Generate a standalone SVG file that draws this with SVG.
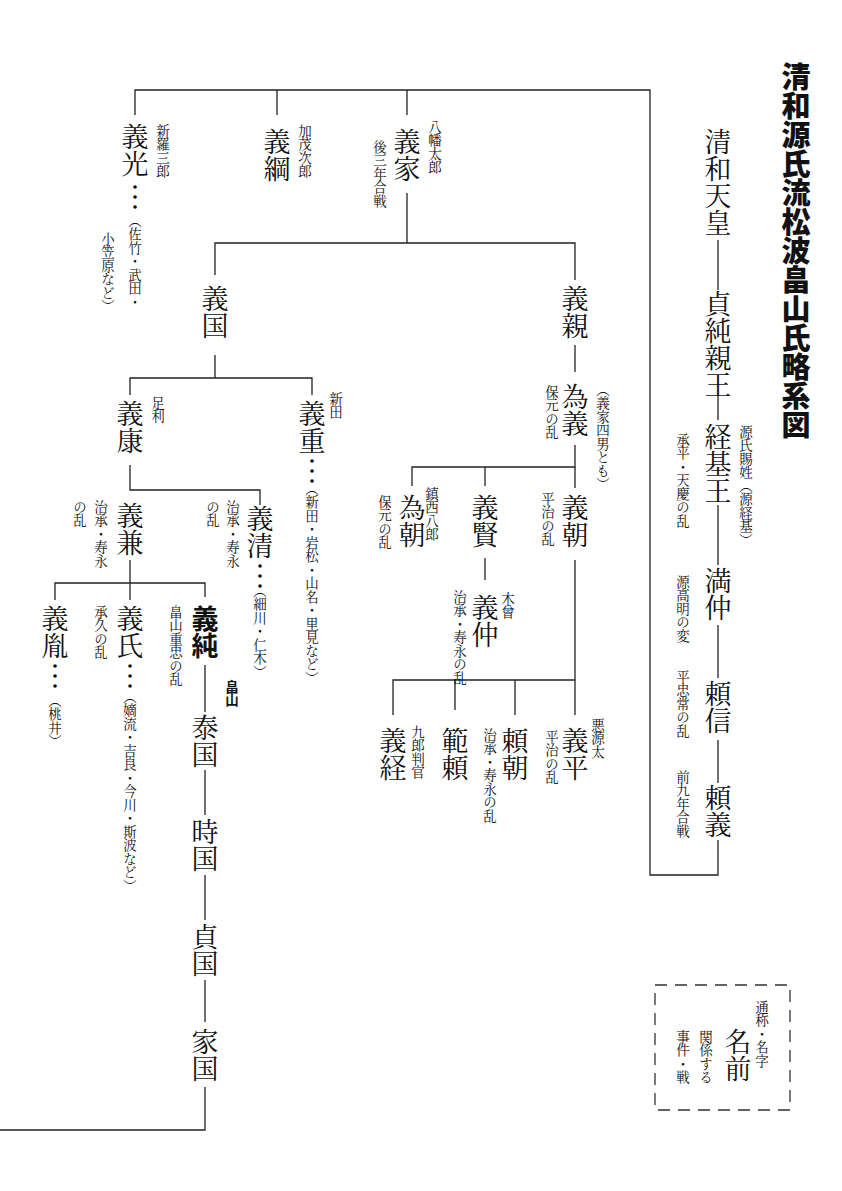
<svg xmlns="http://www.w3.org/2000/svg" width="842" height="1191" viewBox="0 0 842 1191">
<style>
text{writing-mode:vertical-rl;font-family:"Noto Serif CJK JP","Noto Sans CJK JP",serif;fill:#111}
.n{font-size:27px}
.s{font-size:13.5px}
.d{font-size:10px;stroke:#111;stroke-width:1.6}
.b{font-weight:bold;font-family:"Noto Sans CJK JP",sans-serif}
.c line,.c polyline{stroke:#222;stroke-width:1.3;fill:none}
</style>
<rect width="842" height="1191" fill="#fff"/>
<g class="c" id="connectors">
<polyline points="718,240 718,290"/><line x1="718" y1="395" x2="718" y2="420"/><line x1="718" y1="505" x2="718" y2="565"/><line x1="718" y1="625" x2="718" y2="678"/><line x1="718" y1="740" x2="718" y2="783"/>
<polyline points="718,840 718,875 650,875 650,90 135,90 135,115"/>
<line x1="277" y1="90" x2="277" y2="115"/><line x1="407" y1="90" x2="407" y2="115"/>
<polyline points="407,193 407,243"/><polyline points="215,275 215,243 575,243 575,280"/>
<line x1="215" y1="355" x2="215" y2="378"/><polyline points="130,395 130,378 312,378 312,395"/>
<polyline points="130,465 130,490 260,490 260,505"/>
<line x1="130" y1="560" x2="130" y2="600"/><polyline points="55,600 55,583 205,583 205,597"/>
<line x1="205" y1="665" x2="205" y2="712"/><line x1="205" y1="770" x2="205" y2="815"/><line x1="205" y1="875" x2="205" y2="920"/><line x1="205" y1="980" x2="205" y2="1022"/>
<polyline points="205,1087 205,1130 0,1130"/>
<line x1="575" y1="345" x2="575" y2="372"/>
<polyline points="575,445 575,467 412,467 412,486"/><line x1="485" y1="467" x2="485" y2="486"/><line x1="575" y1="467" x2="575" y2="488"/>
<line x1="485" y1="558" x2="485" y2="580"/>
<line x1="575" y1="560" x2="575" y2="715"/><polyline points="393,715 393,680 575,680"/><line x1="455" y1="680" x2="455" y2="710"/><line x1="515" y1="680" x2="515" y2="715"/>
<rect x="655" y="985" width="135" height="125" fill="none" stroke="#333" stroke-width="1.3" stroke-dasharray="12,8"/>
</g>
<g id="title"><text class="b" x="796" y="62" style="font-size:29px;font-weight:900">清和源氏流松波畠山氏略系図</text></g>
<g id="seiwa"><text class="n" x="718" y="128">清和天皇</text></g>
<g id="sadazumi"><text class="n" x="718" y="290">貞純親王</text></g>
<g id="tsunemoto"><text class="n" x="718" y="423">経基王</text><text class="s" x="746" y="425">源氏賜姓（源経基）</text><text class="s" x="683" y="433">承平・天慶の乱</text></g>
<g id="mitsunaka"><text class="n" x="718" y="567">満仲</text><text class="s" x="683" y="575">源高明の変</text></g>
<g id="yorinobu"><text class="n" x="718" y="680">頼信</text><text class="s" x="683" y="670">平忠常の乱</text></g>
<g id="yoriyoshi"><text class="n" x="718" y="784">頼義</text><text class="s" x="683" y="770">前九年合戦</text></g>
<g id="yoshimitsu"><text class="n" x="135" y="123">義光</text><text class="s" x="163" y="124">新羅三郎</text><text class="d" x="135" y="182">・・・</text><text class="s" x="135" y="214">（佐竹・武田・</text><text class="s" x="108" y="232">小笠原など）</text></g>
<g id="yoshitsuna"><text class="n" x="277" y="128">義綱</text><text class="s" x="305" y="124">加茂次郎</text></g>
<g id="yoshiie"><text class="n" x="407" y="128">義家</text><text class="s" x="435" y="120">八幡太郎</text><text class="s" x="380" y="140">後三年合戦</text></g>
<g id="yoshikuni"><text class="n" x="215" y="285">義国</text></g>
<g id="yoshichika"><text class="n" x="575" y="285">義親</text></g>
<g id="yoshiyasu"><text class="n" x="130" y="400">義康</text><text class="s" x="158" y="396">足利</text></g>
<g id="yoshishige"><text class="n" x="312" y="400">義重</text><text class="s" x="336" y="392">新田</text><text class="d" x="312" y="456">・・・</text><text class="s" x="312" y="482">（新田・岩松・山名・里見など）</text></g>
<g id="yoshikane"><text class="n" x="130" y="502">義兼</text><text class="s" x="101" y="500">治承・寿永</text><text class="s" x="80" y="500">の乱</text></g>
<g id="yoshikiyo"><text class="n" x="260" y="505">義清</text><text class="s" x="233" y="500">治承・寿永</text><text class="s" x="213" y="500">の乱</text><text class="d" x="260" y="561">・・・</text><text class="s" x="260" y="584">（細川・仁木）</text></g>
<g id="yoshitane"><text class="n" x="55" y="605">義胤</text><text class="d" x="55" y="661">・・・</text><text class="s" x="55" y="694">（桃井）</text></g>
<g id="yoshiuji"><text class="n" x="130" y="605">義氏</text><text class="s" x="101" y="605">承久の乱</text><text class="d" x="130" y="661">・・・</text><text class="s" x="130" y="690">（嫡流・吉良・今川・斯波など）</text></g>
<g id="yoshizumi"><text class="n b" x="205" y="605">義純</text><text class="s" x="176" y="605">畠山重忠の乱</text></g>
<g id="yasukuni"><text class="n" x="205" y="714">泰国</text><text class="s b" x="232" y="680">畠山</text></g>
<g id="tokikuni"><text class="n" x="205" y="818">時国</text></g>
<g id="sadakuni"><text class="n" x="205" y="923">貞国</text></g>
<g id="iekuni"><text class="n" x="205" y="1028">家国</text></g>
<g id="tameyoshi"><text class="n" x="575" y="383">為義</text><text class="s" x="603" y="383">（義家四男とも）</text><text class="s" x="552" y="385">保元の乱</text></g>
<g id="yoshitomo"><text class="n" x="575" y="494">義朝</text><text class="s" x="548" y="492">平治の乱</text></g>
<g id="yoshikata"><text class="n" x="485" y="494">義賢</text></g>
<g id="yoshinaka"><text class="n" x="485" y="594">義仲</text><text class="s" x="508" y="592">木曾</text><text class="s" x="460" y="590">治承・寿永の乱</text></g>
<g id="tametomo"><text class="n" x="412" y="494">為朝</text><text class="s" x="432" y="487">鎮西八郎</text><text class="s" x="385" y="495">保元の乱</text></g>
<g id="yoshihira"><text class="n" x="575" y="727">義平</text><text class="s" x="598" y="718">悪源太</text><text class="s" x="552" y="730">平治の乱</text></g>
<g id="yoritomo"><text class="n" x="515" y="727">頼朝</text><text class="s" x="490" y="728">治承・寿永の乱</text></g>
<g id="noriyori"><text class="n" x="455" y="727">範頼</text></g>
<g id="yoshitsune"><text class="n" x="393" y="727">義経</text><text class="s" x="418" y="725">九郎判官</text></g>
<g id="legend"><text class="s" x="762" y="1000">通称・名字</text><text class="n" x="738" y="1028">名前</text><text class="s" x="706" y="1030">関係する</text><text class="s" x="683" y="1030">事件・戦</text></g>
</svg>
